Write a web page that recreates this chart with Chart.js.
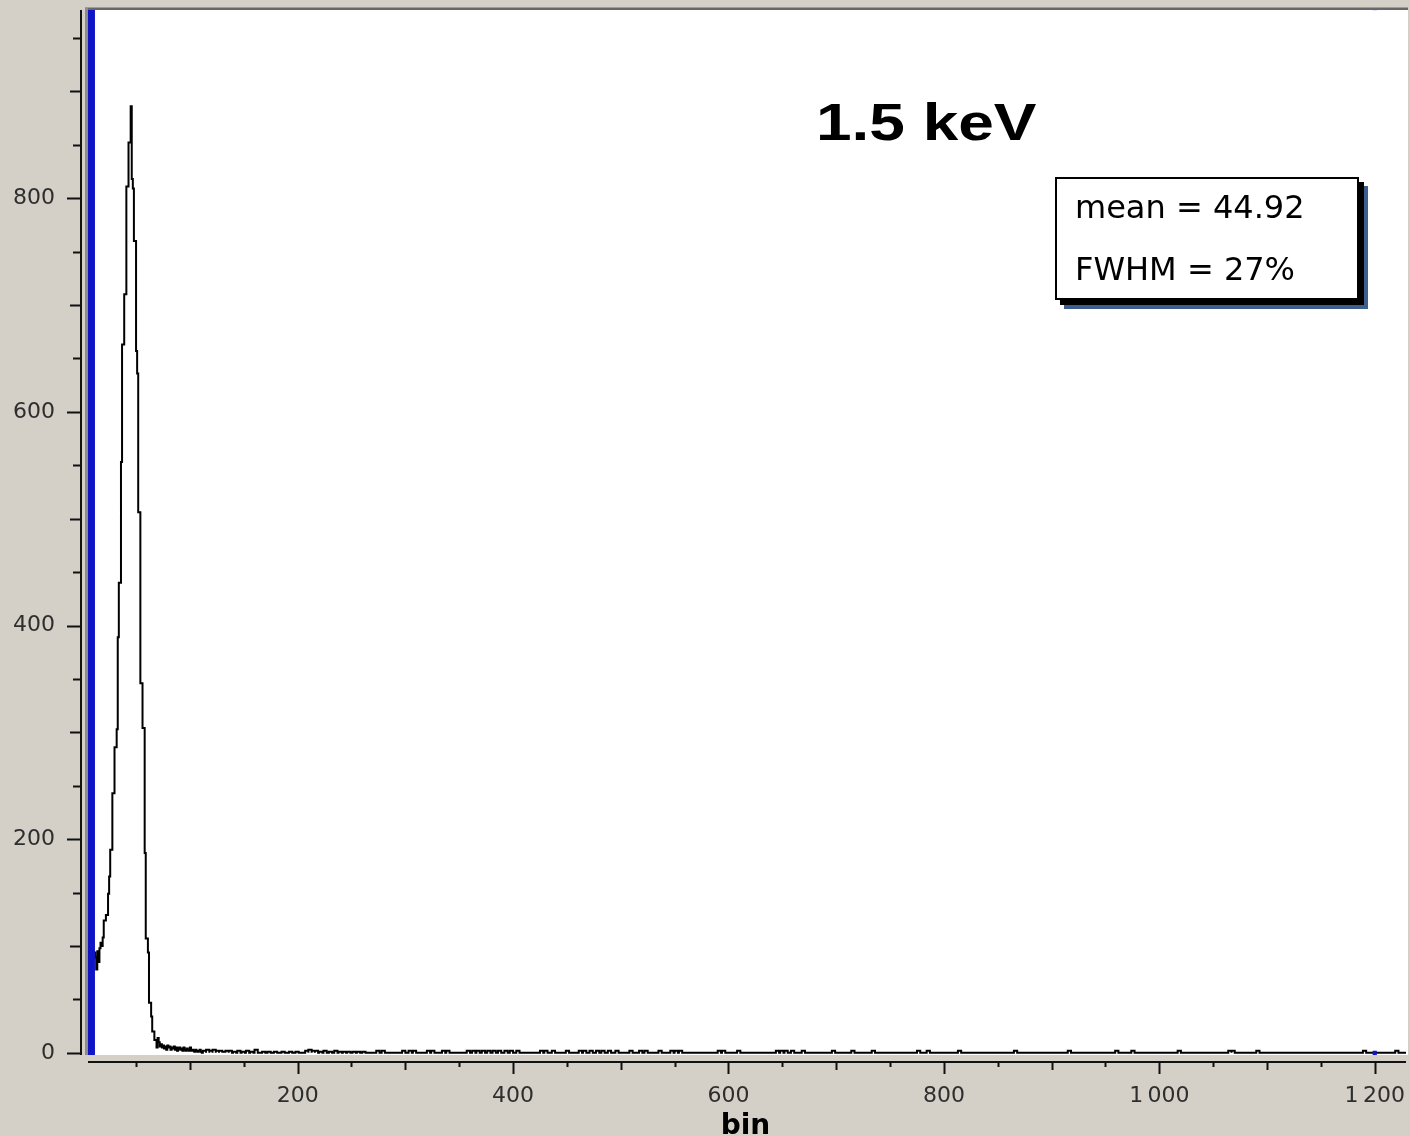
<!DOCTYPE html>
<html>
<head>
<meta charset="utf-8">
<script src="https://cdn.jsdelivr.net/npm/chart.js@4.4.1/dist/chart.umd.min.js"></script>
<style>
html,body{margin:0;padding:0;background:#d4d0c8;}
#wrap{position:relative;width:1410px;height:1136px;overflow:hidden;background:#d4d0c8;}
#chart{display:block;position:absolute;left:0;top:0;}
#title{position:absolute;left:816px;top:96px;font:bold 52px "Liberation Sans",Arial,sans-serif;line-height:52px;transform-origin:0 0;transform:scaleX(1.23);white-space:nowrap;color:#000;}
#stats{position:absolute;left:1055px;top:177px;width:304px;height:123px;box-sizing:border-box;border:2px solid #000;background:#fff;box-shadow:5px 5px 0 #000, 9px 9px 0 #3d5f8f;}
#stats div{position:absolute;left:18px;font:32px "DejaVu Sans",sans-serif;line-height:32px;white-space:nowrap;color:#000;}
</style>
</head>
<body>
<div id="wrap">
  <canvas id="chart" width="1410" height="1136"></canvas>
  <div id="title">1.5 keV</div>
  <div id="stats"><div id="s1" style="top:12px">mean = 44.92</div><div id="s2" style="top:74px">FWHM = 27%</div></div>
</div>
<script>
// ---- data ----
const denseStart = 4;          // first bin of the contiguous part
const denseCounts = [
  95, 98, 92, 100, 90, 96, 88, 94,          // 4-11
  90, 78, 95, 85, 98, 103, 100, 108,        // 12-19
  124, 124, 129, 129, 149, 165, 190, 190,   // 20-27
  243, 243, 286, 286, 303, 389, 440, 440,   // 28-35
  553, 663, 663, 710, 710, 811, 811, 852,   // 36-43
  852, 886, 818, 809, 760, 760, 657, 636,   // 44-51
  506, 506, 346, 346, 304, 304, 187, 107,   // 52-59
  107, 94, 47, 47, 34, 20, 20, 12,          // 60-67
  12, 5, 14, 10, 6, 8, 5, 7,                // 68-75
  4, 6, 3, 7, 5, 6, 3, 5,                   // 76-83
  4, 6, 3, 5, 2, 4, 5, 3,                   // 84-91
  4, 2, 5, 3, 2, 4, 3, 2,                   // 92-99
  5, 2, 3, 2, 1, 3, 2, 1,                   // 100-107
  2, 3, 1                                   // 108-110
];
const tailBins = [
  112, 115, 118, 121, 124, 127, 130, 133, 136, 140, 144, 148, 152, 156, 160,
  167, 172, 178, 185, 192, 198, 207, 210, 213, 216, 220, 224, 229, 234,
  238, 242, 246, 251, 255, 260, 273, 278, 297, 303, 307, 320, 324, 334, 338,
  357, 362, 366, 371, 376, 381, 386, 392, 397, 403, 425, 429, 436, 449, 461,
  465, 471, 477, 482, 488, 495, 508, 517, 522, 535, 546, 550, 554, 590, 594,
  608, 644, 648, 652, 658, 668, 696, 714, 733, 775, 784, 813, 865, 915, 959,
  974, 1017, 1064, 1067, 1090, 1189, 1219
];
const tailCounts = [
  2, 3, 2, 3, 2, 2, 1, 2, 2, 1, 2, 1, 2, 1, 3,
  1, 1, 1, 1, 1, 1, 2, 3, 2, 2, 1, 2, 1, 2,
  1, 1, 1, 1, 1, 1, 2, 2, 2, 2, 2, 2, 2, 2, 2,
  2, 2, 2, 2, 2, 2, 2, 2, 2, 2, 2, 2, 2, 2, 2,
  2, 2, 2, 2, 2, 2, 2, 2, 2, 2, 2, 2, 2, 2, 2,
  2, 2, 2, 2, 2, 2, 2, 2, 2, 2, 2, 2, 2, 2, 2,
  2, 2, 2, 2, 2, 2, 2
];
const cursorBin = [8.6, 8.6];
const cursorY = [-2, 978];
const markerBins = [1200, 1200];
const markerY = [0, 978];
const xTickValues = [200, 400, 600, 800, 1000, 1200];
const xTickLabels = ['200', '400', '600', '800', '1\u202F000', '1\u202F200'];
const yTickValues = [0, 200, 400, 600, 800];
const yTickLabels = ['0', '200', '400', '600', '800'];
const xTitle = 'bin';
const xMin = 2.6, xMax = 1229, yMin = -2, yMax = 978;

// ---- build step points (left edge of each bin) ----
const histPoints = [];
denseCounts.forEach((c, i) => histPoints.push({x: denseStart + i, y: c}));
histPoints.push({x: denseStart + denseCounts.length, y: 0});
tailBins.forEach((b, i) => {
  histPoints.push({x: b, y: tailCounts[i]});
  histPoints.push({x: b + 3, y: 0});
});
histPoints.push({x: xMax, y: 0});

const framePlugin = {
  id: 'frame',
  beforeDraw(chart) {
    const {ctx, chartArea: a} = chart;
    ctx.save();
    ctx.fillStyle = '#ffffff';
    ctx.fillRect(a.left, a.top, a.right - a.left + 2, a.bottom - a.top);
    ctx.restore();
  },
  afterDraw(chart) {
    const {ctx, chartArea: a, scales} = chart;
    const xs = scales.x, ys = scales.y;
    ctx.save();
    // plot frame
    ctx.fillStyle = '#686868';
    ctx.fillRect(a.left, a.top - 0.5, a.right - a.left + 2, 2.5);
    ctx.fillStyle = '#8c8c8c';
    ctx.fillRect(a.left, a.top, 3, a.bottom - a.top);
    // y axis
    ctx.strokeStyle = '#111';
    ctx.lineWidth = 2;
    const yx = a.left - 4;
    ctx.beginPath();
    ctx.moveTo(yx, a.top + 2);
    ctx.lineTo(yx, a.bottom);
    for (let v = 0; v <= 950; v += 50) {
      const p = Math.round(ys.getPixelForValue(v)) + 0.5;
      const len = v % 200 === 0 ? 14 : (v % 100 === 0 ? 11 : 8);
      ctx.moveTo(yx, p);
      ctx.lineTo(yx - len, p);
    }
    ctx.stroke();
    // x axis
    const xy = a.bottom + 7;
    ctx.beginPath();
    ctx.moveTo(a.left + 3, xy);
    ctx.lineTo(a.right, xy);
    for (let v = 50; v <= 1200; v += 50) {
      const p = Math.round(xs.getPixelForValue(v)) + 0.5;
      const len = v % 200 === 0 ? 12 : (v % 100 === 0 ? 8 : 5);
      ctx.moveTo(p, xy);
      ctx.lineTo(p, xy + len);
    }
    ctx.stroke();
    ctx.restore();
  }
};

new Chart(document.getElementById('chart'), {
  type: 'line',
  data: {
    datasets: [
      {
        data: cursorBin.map((x, i) => ({x, y: cursorY[i]})),
        borderColor: '#1014c6', borderWidth: 7, pointRadius: 0, clip: 0
      },
      {
        data: markerBins.map((x, i) => ({x, y: markerY[i]})),
        showLine: false, pointStyle: 'rect', pointRadius: 3,
        backgroundColor: '#1014c6', borderColor: '#1014c6', borderWidth: 0
      },
      {
        data: histPoints,
        borderColor: '#000000', borderWidth: 2, pointRadius: 0,
        stepped: true, fill: false
      }
    ]
  },
  options: {
    responsive: false,
    animation: false,
    devicePixelRatio: 1,
    layout: {padding: {left: 0, top: 8, right: 2, bottom: 0}},
    plugins: {legend: {display: false}, tooltip: {enabled: false}},
    scales: {
      x: {
        type: 'linear', position: 'bottom', min: xMin, max: xMax,
        afterBuildTicks: s => { s.ticks = xTickValues.map(v => ({value: v})); },
        afterFit: s => { s.height = 81; s.paddingLeft = 0; s.paddingRight = 0; s.paddingTop = 0; s.paddingBottom = 0; },
        grid: {display: false}, border: {display: false},
        ticks: {
          autoSkip: false, maxRotation: 0, padding: 20, color: '#2e2e2e',
          font: {family: 'DejaVu Sans', size: 22},
          callback: v => xTickLabels[xTickValues.indexOf(v)]
        },
        title: {
          display: true, text: xTitle, color: '#000',
          font: {family: 'DejaVu Sans', size: 28, weight: 'bold', lineHeight: 1},
          padding: {top: 0, bottom: -5}
        }
      },
      y: {
        type: 'linear', position: 'left', min: yMin, max: yMax,
        afterBuildTicks: s => { s.ticks = yTickValues.map(v => ({value: v})); },
        afterFit: s => { s.width = 85; s.paddingLeft = 0; s.paddingRight = 0; s.paddingTop = 0; s.paddingBottom = 0; },
        grid: {display: false}, border: {display: false},
        ticks: {
          autoSkip: false, padding: 22, color: '#2e2e2e',
          font: {family: 'DejaVu Sans', size: 22},
          callback: v => yTickLabels[yTickValues.indexOf(v)]
        }
      }
    }
  },
  plugins: [framePlugin]
});
</script>
</body>
</html>
